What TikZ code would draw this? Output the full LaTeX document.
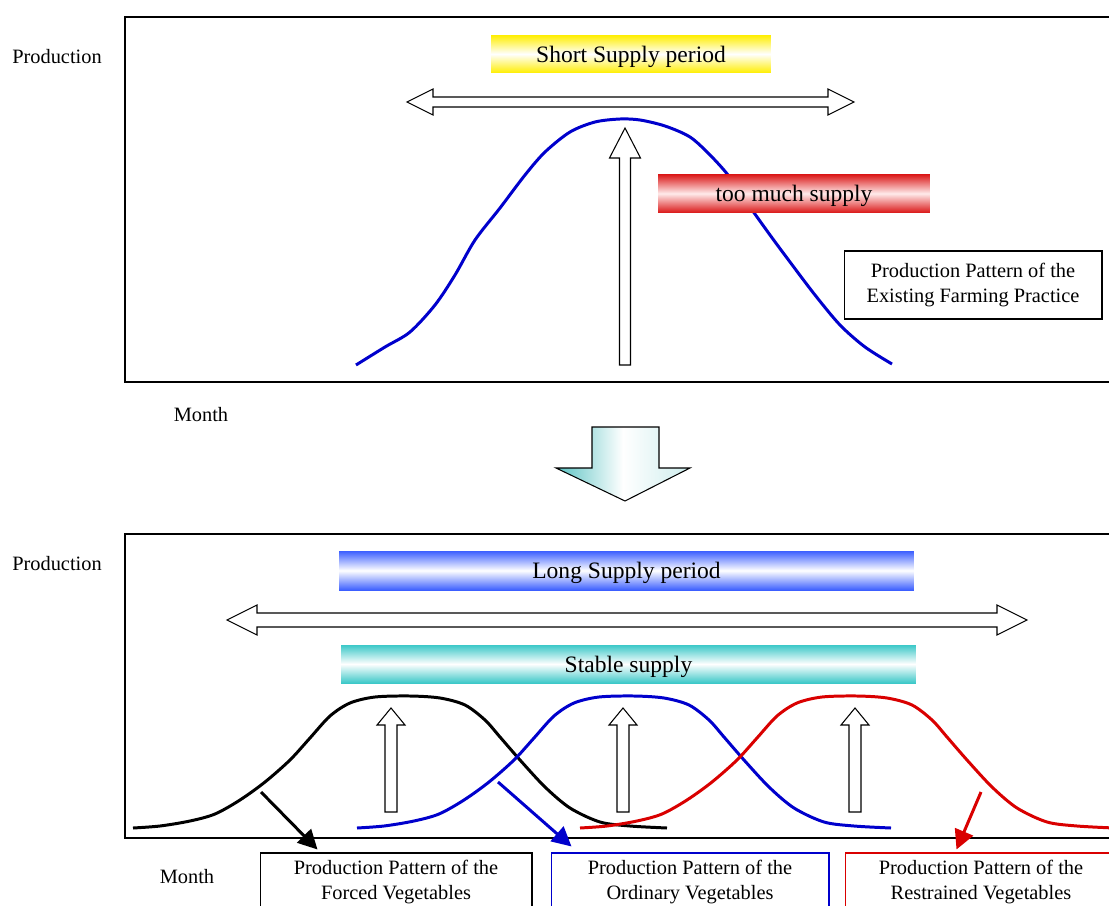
\documentclass[tikz,border=0pt]{standalone}
\usepackage{fontspec}
\setmainfont{Liberation Serif}
\usepackage{tikz}
\usetikzlibrary{calc,arrows.meta,positioning}
\colorlet{curveBlue}{blue!80!black}
\colorlet{curveRed}{red!85!black}
\definecolor{bandYellow}{RGB}{255,238,0}
\definecolor{bandRed}{RGB}{218,20,20}
\definecolor{bandBlue}{RGB}{60,95,255}
\definecolor{bandTeal}{RGB}{60,200,200}
\definecolor{arrowTeal}{RGB}{90,195,195}

\begin{document}
\begin{tikzpicture}[x=0.02cm,y=-0.02cm,
    font=\fontsize{11.6}{14.7}\selectfont,
    curve/.style={line width=1.7pt, line join=round},
    band/.style={inner sep=0pt, text depth=0pt, font=\fontsize{13.4}{16}\selectfont},
    patbox/.style={draw, line width=0.6pt, align=center, inner sep=0pt, minimum height=1.16cm},
    hollow/.style={draw, fill=white, line width=0.6pt, line join=miter},
    pointer/.style={line width=1.7pt, -{Triangle[length=11pt,width=11pt]}}]
        \useasboundingbox (0,0) rectangle (1109,906);
        \clip (0,0) rectangle (1109,906);
        % Frames
        \draw[line width=0.6pt] (125,17) rectangle (1130,382);
        \draw[line width=0.6pt] (125,534) rectangle (1130,838);
        % Axis texts
        \node (prodA) at (57,57) {Production};
        \node (monthA) at (201,415) {Month};
        \node (prodB) at (57,564) {Production};
        \node (monthB) at (187,877) {Month};
        % Existing practice: one curve
        \draw[curve, curveBlue] plot[smooth, tension=0.5] coordinates {(356,365) (385,347) (410,332) (435,305) (455,275)
          (475,240) (500,208) (525,175) (545,152) (570,132) (595,122) (620,119) (640,120) (665,126)
          (690,137) (710,155) (728,175) (745,200) (770,235) (790,262) (815,295) (840,325) (865,347) (892,364)};
        \node[band, top color=bandYellow, bottom color=bandYellow, middle color=white,
          minimum width=5.6cm, minimum height=0.76cm] (short) at (631,54) {Short Supply period};
        % Wide double arrow
        \draw[hollow] (407,102) -- (433,89) -- (433,97) -- (828,97) -- (828,89) -- (854,102)
          -- (828,115) -- (828,107) -- (433,107) -- (433,115) -- cycle;
        % Peak arrow
        \draw[hollow] (619.5,365) -- (619.5,158) -- (609.5,158) -- (625,128) -- (640.5,158)
          -- (630.5,158) -- (630.5,365) -- cycle;
        \node[band, top color=bandRed, bottom color=bandRed, middle color=red!8,
          minimum width=5.44cm, minimum height=0.78cm] (toomuch) at (794,193.5) {too much supply};
        \node[draw, line width=0.6pt, align=center, minimum width=5.16cm, minimum height=1.36cm]
          (existing) at (973,285) {Production Pattern of the\\Existing Farming Practice};
        % Big arrow down
        \draw[line width=0.6pt, left color=arrowTeal, right color=arrowTeal!30, middle color=white]
          (592,427) -- (659,427) -- (659,468) -- (690,468) -- (625,501) -- (556,468) -- (592,468) -- cycle;
        % New practice
        \node[band, top color=bandBlue, bottom color=bandBlue, middle color=white,
          minimum width=11.5cm, minimum height=0.78cm] (long) at (626.5,570.5) {Long Supply period};
        \draw[hollow] (227,620) -- (257,605) -- (257,613) -- (997,613) -- (997,605) -- (1027,620)
          -- (997,635) -- (997,627) -- (257,627) -- (257,635) -- cycle;
        \node[band, top color=bandTeal, bottom color=bandTeal, middle color=white,
          minimum width=11.5cm, minimum height=0.76cm] (stable) at (628.5,664) {Stable supply};
        % Three shifted curves
        \foreach \dx/\col in {0/black,224/curveBlue,447/curveRed}
          \draw[curve, \col, shift={(\dx,0)}] plot[smooth, tension=0.5] coordinates {(133,828) (160,826) (190,821)
            (215,814) (240,800) (265,782) (290,760) (310,738) (330,716) (350,703) (375,697) (410,696)
            (440,698) (465,705) (485,720) (500,737) (520,760) (545,787) (570,808) (600,822) (630,826) (667,828)};
        \foreach \cx in {391,623,855}
          \draw[hollow] (\cx-6,812) -- (\cx-6,725) -- (\cx-14,725) -- (\cx,708) -- (\cx+14,725)
            -- (\cx+6,725) -- (\cx+6,812) -- cycle;
        % Pattern boxes
        \node[patbox, minimum width=5.44cm] (forced) at (396,882) {Production Pattern of the\\Forced Vegetables};
        \node[patbox, draw=curveBlue, minimum width=5.56cm] (ordinary) at (690,882) {Production Pattern of the\\Ordinary Vegetables};
        \node[patbox, draw=curveRed, minimum width=5.44cm] (restrained) at (981,882) {Production Pattern of the\\Restrained Vegetables};
        % Pointers from curves to boxes
        \coordinate (forcedFrom) at (261,792);
        \coordinate (ordinaryFrom) at (498,782);
        \coordinate (restrainedFrom) at (981,792);
        \draw[pointer, black] (forcedFrom) -- ($(forced.north west)+(58,-3)$);
        \draw[pointer, curveBlue] (ordinaryFrom) -- ($(ordinary.north west)+(21,-6)$);
        \draw[pointer, curveRed] (restrainedFrom) -- ($(restrained.north west)+(112,-3)$);
\end{tikzpicture}
\end{document}
